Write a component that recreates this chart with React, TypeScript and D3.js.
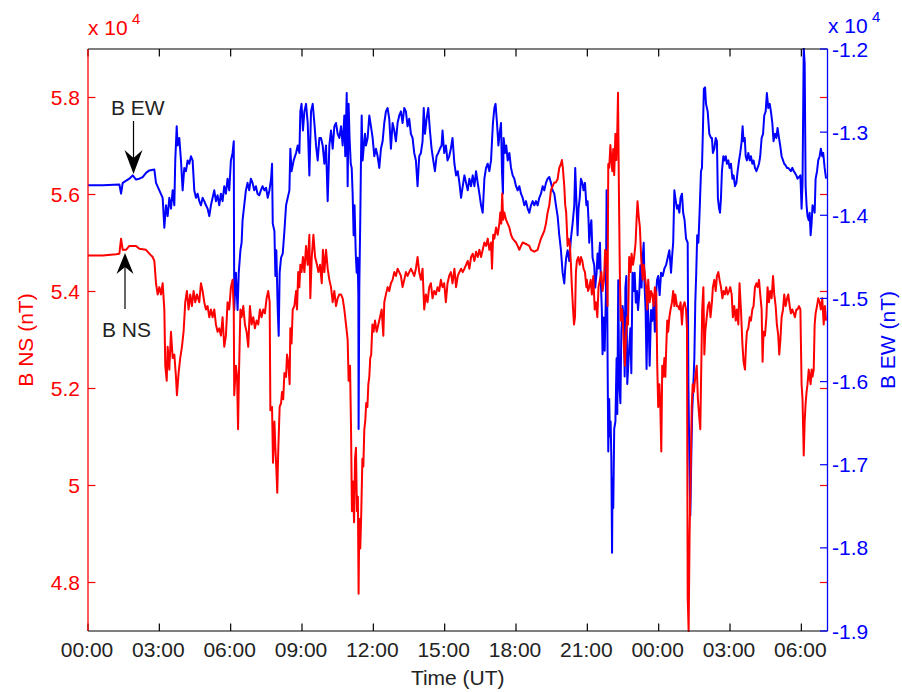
import React from "react";
import * as d3 from "d3";

// Time in hours since 00:00 UT (day 1); values in units of 10^4 nT
const ewSeries: [number, number][] = [
  [0,-1.364],[0.62,-1.364],[1.32,-1.363],[1.39,-1.374],[1.46,-1.361],[1.74,-1.356],[1.88,-1.352],[2.02,-1.357],[2.16,-1.356],[2.30,-1.354],[2.44,-1.349],[2.58,-1.346],[2.79,-1.345],[2.86,-1.361],[3.00,-1.370],[3.14,-1.379],[3.21,-1.415],[3.28,-1.388],[3.35,-1.401],[3.42,-1.379],[3.49,-1.392],[3.56,-1.370],[3.63,-1.388],[3.67,-1.334],[3.73,-1.293],[3.77,-1.316],[3.84,-1.307],[3.91,-1.334],[3.98,-1.370],[4.05,-1.343],[4.12,-1.347],[4.19,-1.334],[4.26,-1.338],[4.33,-1.329],[4.40,-1.334],[4.47,-1.370],[4.54,-1.379],[4.61,-1.374],[4.68,-1.383],[4.75,-1.388],[4.82,-1.379],[4.89,-1.383],[4.96,-1.388],[5.03,-1.392],[5.10,-1.401],[5.17,-1.388],
  [5.24,-1.379],[5.31,-1.370],[5.38,-1.383],[5.45,-1.376],[5.52,-1.388],[5.59,-1.374],[5.66,-1.383],[5.73,-1.365],[5.80,-1.374],[5.87,-1.356],[5.94,-1.370],[6.01,-1.334],[6.08,-1.325],[6.13,-1.311],[6.15,-1.514],[6.22,-1.469],[6.29,-1.514],[6.34,-1.469],[6.41,-1.442],[6.46,-1.433],[6.50,-1.406],[6.57,-1.388],[6.64,-1.370],[6.71,-1.361],[6.78,-1.370],[6.85,-1.356],[6.92,-1.361],[6.99,-1.370],[7.06,-1.365],[7.13,-1.374],[7.20,-1.376],[7.27,-1.370],[7.34,-1.365],[7.42,-1.370],[7.49,-1.367],[7.56,-1.379],[7.63,-1.370],[7.70,-1.356],[7.74,-1.338],[7.77,-1.410],[7.84,-1.419],[7.88,-1.473],[7.92,-1.442],[7.98,-1.514],[8.02,-1.545],[8.06,-1.469],[8.12,-1.451],[8.19,-1.446],[8.26,-1.419],[8.33,-1.388],[8.40,-1.379],[8.47,-1.370],[8.51,-1.320],[8.56,-1.347],[8.65,-1.334],[8.75,-1.325],[8.82,-1.316],[8.89,-1.325],[8.93,-1.275],[8.98,-1.266],[9.04,-1.298],[9.10,-1.275],[9.17,-1.266],[9.24,-1.289],[9.31,-1.352],[9.38,-1.275],[9.45,-1.266],[9.52,-1.289],[9.59,-1.316],[9.66,-1.334],[9.73,-1.307],[9.80,-1.307],[9.87,-1.316],[9.94,-1.338],[10.01,-1.316],[10.08,-1.383],[10.15,-1.316],[10.22,-1.298],[10.29,-1.320],[10.36,-1.293],[10.43,-1.289],
  [10.50,-1.302],[10.57,-1.307],[10.64,-1.293],[10.71,-1.316],[10.78,-1.280],[10.82,-1.329],[10.88,-1.253],[10.92,-1.365],[10.96,-1.266],[11.00,-1.307],[11.05,-1.338],[11.09,-1.343],[11.13,-1.374],[11.17,-1.424],[11.21,-1.388],[11.26,-1.446],[11.30,-1.469],[11.34,-1.451],[11.37,-1.496],[11.38,-1.657],[11.41,-1.487],[11.45,-1.406],[11.48,-1.334],[11.51,-1.280],[11.55,-1.334],[11.59,-1.320],[11.65,-1.302],[11.69,-1.316],[11.76,-1.307],[11.83,-1.280],[11.90,-1.293],[11.97,-1.307],[12.04,-1.329],[12.11,-1.320],[12.18,-1.329],[12.25,-1.343],[12.32,-1.320],[12.39,-1.311],[12.46,-1.289],[12.53,-1.275],[12.60,-1.271],[12.67,-1.284],[12.74,-1.320],[12.81,-1.289],[12.88,-1.298],[12.95,-1.311],[13.02,-1.289],[13.09,-1.280],[13.16,-1.275],[13.23,-1.289],[13.30,-1.271],[13.37,-1.275],[13.44,-1.293],[13.51,-1.284],[13.58,-1.302],[13.65,-1.307],[13.72,-1.325],[13.79,-1.334],[13.86,-1.365],[13.93,-1.329],[14.00,-1.325],[14.07,-1.311],[14.12,-1.271],[14.17,-1.302],[14.24,-1.284],[14.31,-1.271],[14.38,-1.298],[14.45,-1.320],[14.52,-1.334],[14.59,-1.347],[14.66,-1.329],[14.73,-1.325],[14.80,-1.320],[14.87,-1.316],[14.91,-1.298],[14.98,-1.325],[15.05,-1.316],[15.12,-1.334],[15.19,-1.329],[15.26,-1.320],[15.33,-1.307],[15.41,-1.338],[15.48,-1.352],[15.55,-1.347],[15.62,-1.361],[15.69,-1.379],
  [15.76,-1.365],[15.83,-1.352],[15.90,-1.361],[15.97,-1.370],[16.04,-1.356],[16.11,-1.365],[16.18,-1.352],[16.25,-1.365],[16.32,-1.347],[16.39,-1.361],[16.46,-1.374],[16.53,-1.388],[16.60,-1.397],[16.67,-1.356],[16.74,-1.343],[16.81,-1.338],[16.88,-1.347],[16.95,-1.334],[16.99,-1.311],[17.03,-1.289],[17.09,-1.271],[17.14,-1.266],[17.20,-1.289],[17.26,-1.316],[17.31,-1.302],[17.37,-1.289],[17.41,-1.347],[17.45,-1.374],[17.48,-1.307],[17.54,-1.325],[17.59,-1.316],[17.65,-1.334],[17.72,-1.325],[17.79,-1.343],[17.86,-1.352],[17.93,-1.356],[18.00,-1.365],[18.07,-1.370],[18.14,-1.365],[18.21,-1.374],[18.28,-1.379],[18.35,-1.388],[18.42,-1.383],[18.49,-1.392],[18.56,-1.397],[18.63,-1.388],[18.70,-1.383],[18.77,-1.388],[18.84,-1.383],[18.91,-1.388],[18.98,-1.379],[19.05,-1.374],[19.12,-1.365],[19.19,-1.370],[19.26,-1.361],[19.33,-1.356],[19.40,-1.354],[19.47,-1.361],[19.54,-1.370],[19.61,-1.374],[19.68,-1.388],[19.75,-1.401],[19.82,-1.424],[19.89,-1.442],[19.96,-1.469],[20.03,-1.482],[20.07,-1.464],[20.11,-1.451],[20.17,-1.442],[20.24,-1.455],[20.31,-1.428],[20.38,-1.410],[20.45,-1.388],[20.49,-1.343],[20.54,-1.383],[20.59,-1.424],[20.63,-1.392],[20.68,-1.379],[20.73,-1.356],[20.79,-1.361],[20.84,-1.370],[20.90,-1.361],[20.96,-1.388],
  [21.01,-1.383],[21.05,-1.406],[21.08,-1.433],[21.12,-1.415],[21.17,-1.406],[21.22,-1.451],[21.29,-1.460],[21.33,-1.487],[21.39,-1.469],[21.43,-1.446],[21.47,-1.464],[21.53,-1.433],[21.57,-1.482],[21.61,-1.514],[21.64,-1.567],[21.68,-1.523],[21.73,-1.563],[21.78,-1.496],[21.81,-1.370],[21.85,-1.567],[21.88,-1.684],[21.92,-1.621],[21.95,-1.666],[21.98,-1.648],[22.01,-1.693],[22.04,-1.806],[22.06,-1.716],[22.09,-1.752],[22.13,-1.657],[22.18,-1.648],[22.23,-1.572],[22.26,-1.639],[22.30,-1.478],[22.34,-1.603],[22.39,-1.626],[22.43,-1.540],[22.48,-1.509],[22.53,-1.523],[22.57,-1.594],[22.60,-1.487],[22.64,-1.473],[22.68,-1.603],[22.72,-1.581],[22.76,-1.559],[22.81,-1.536],[22.85,-1.590],[22.90,-1.469],[22.95,-1.491],[22.99,-1.469],[23.04,-1.505],[23.09,-1.491],[23.13,-1.514],[23.18,-1.496],[23.23,-1.460],[23.28,-1.487],[23.33,-1.451],[23.37,-1.433],[23.41,-1.487],[23.45,-1.514],[23.49,-1.585],[23.54,-1.505],[23.58,-1.532],[23.62,-1.581],[23.68,-1.514],[23.73,-1.527],[23.79,-1.505],[23.84,-1.540],[23.89,-1.496],[23.93,-1.478],[23.98,-1.473],[24.04,-1.496],[24.10,-1.469],[24.17,-1.473],[24.24,-1.464],[24.31,-1.460],[24.38,-1.451],[24.45,-1.442],[24.52,-1.469],[24.56,-1.451],[24.61,-1.433],[24.66,-1.370],[24.70,-1.379],[24.77,-1.392],[24.81,-1.388],[24.87,-1.397],[24.92,-1.379],[24.98,-1.374],[25.03,-1.397],[25.09,-1.406],[25.15,-1.428],[25.22,-1.433],[25.25,-1.603],[25.29,-1.693],[25.33,-1.761],[25.37,-1.693],[25.41,-1.635],[25.46,-1.603],[25.50,-1.572],[25.54,-1.505],[25.58,-1.469],[25.62,-1.424],[25.67,-1.433],[25.72,-1.397],[25.78,-1.347],[25.82,-1.343],[25.86,-1.298],[25.90,-1.248],[25.95,-1.246],[25.99,-1.266],[26.06,-1.275],[26.13,-1.302],[26.20,-1.307],
  [26.24,-1.307],[26.28,-1.325],[26.34,-1.320],[26.40,-1.307],[26.45,-1.311],[26.49,-1.379],[26.54,-1.392],[26.58,-1.397],[26.62,-1.379],[26.66,-1.347],[26.72,-1.329],[26.76,-1.334],[26.82,-1.329],[26.87,-1.338],[26.93,-1.334],[26.98,-1.343],[27.04,-1.338],[27.10,-1.356],[27.15,-1.352],[27.21,-1.365],[27.27,-1.361],[27.32,-1.347],[27.38,-1.334],[27.43,-1.325],[27.49,-1.311],[27.53,-1.293],[27.57,-1.311],[27.62,-1.307],[27.66,-1.329],[27.71,-1.334],[27.77,-1.325],[27.83,-1.334],[27.88,-1.329],[27.94,-1.338],[27.99,-1.334],[28.05,-1.343],[28.11,-1.347],[28.16,-1.343],[28.22,-1.338],[28.27,-1.329],[28.33,-1.307],[28.39,-1.302],[28.44,-1.280],[28.50,-1.275],[28.55,-1.253],[28.61,-1.271],[28.67,-1.266],[28.72,-1.275],[28.78,-1.289],[28.83,-1.311],[28.89,-1.302],[28.95,-1.307],[29.00,-1.295],[29.06,-1.307],[29.11,-1.316],[29.17,-1.329],[29.23,-1.334],[29.28,-1.338],[29.34,-1.340],[29.40,-1.343],[29.45,-1.343],[29.51,-1.345],[29.56,-1.347],[29.62,-1.343],[29.68,-1.347],[29.73,-1.349],[29.79,-1.352],[29.84,-1.356],[29.90,-1.354],[29.96,-1.352],[30.01,-1.392],[30.05,-1.361],[30.10,-1.199],[30.14,-1.217],[30.18,-1.365],[30.22,-1.388],[30.26,-1.401],[30.31,-1.406],[30.35,-1.397],[30.39,-1.424],[30.43,-1.410],[30.47,-1.388],[30.52,-1.392],[30.56,-1.397],[30.60,-1.356],[30.66,-1.347],[30.71,-1.334],[30.77,-1.329],[30.82,-1.320],[30.88,-1.329],[30.92,-1.325],[30.98,-1.343],[31.04,-1.356],
];

const nsSeries: [number, number][] = [
  [0,5.474],[0.62,5.474],[1.18,5.477],[1.32,5.478],[1.39,5.509],[1.46,5.486],[1.60,5.486],[1.74,5.494],[2.02,5.494],[2.16,5.488],[2.44,5.486],[2.58,5.478],[2.72,5.471],[2.79,5.463],[2.86,5.417],[2.93,5.394],[3.00,5.409],[3.07,5.394],[3.14,5.417],[3.21,5.363],[3.25,5.247],[3.31,5.216],[3.35,5.286],[3.42,5.239],[3.49,5.317],[3.56,5.263],[3.63,5.270],[3.70,5.224],[3.74,5.186],[3.81,5.232],[3.88,5.263],[3.95,5.286],[4.02,5.317],[4.09,5.378],[4.16,5.401],[4.23,5.363],[4.30,5.394],[4.37,5.370],[4.44,5.401],[4.51,5.378],[4.58,5.394],[4.68,5.378],[4.75,5.417],[4.82,5.401],[4.89,5.378],[4.96,5.363],[5.03,5.370],[5.10,5.347],[5.17,5.363],
  [5.24,5.347],[5.31,5.363],[5.38,5.332],[5.45,5.317],[5.52,5.324],[5.59,5.309],[5.66,5.347],[5.73,5.286],[5.80,5.309],[5.87,5.378],[5.94,5.363],[6.01,5.409],[6.08,5.424],[6.13,5.363],[6.15,5.186],[6.22,5.247],[6.27,5.224],[6.31,5.116],[6.35,5.232],[6.41,5.363],[6.46,5.347],[6.53,5.370],[6.60,5.332],[6.67,5.317],[6.74,5.286],[6.81,5.370],[6.88,5.332],[6.95,5.347],[7.02,5.324],[7.09,5.340],[7.16,5.332],[7.23,5.363],[7.30,5.347],[7.37,5.363],[7.44,5.355],[7.51,5.386],[7.58,5.401],[7.64,5.378],[7.67,5.155],[7.74,5.162],[7.78,5.047],[7.84,5.132],[7.88,5.078],[7.93,5.024],[7.96,4.985],[8.00,5.070],[8.06,5.162],[8.12,5.170],[8.16,5.193],[8.21,5.178],[8.26,5.232],[8.33,5.224],[8.37,5.270],[8.42,5.255],[8.48,5.209],[8.51,5.324],[8.56,5.293],[8.61,5.363],[8.68,5.370],[8.75,5.401],[8.79,5.363],[8.84,5.440],[8.89,5.409],[8.93,5.455],[8.98,5.440],[9.04,5.471],[9.10,5.440],[9.17,5.494],[9.24,5.455],[9.31,5.517],[9.35,5.386],[9.41,5.471],[9.48,5.517],[9.55,5.471],[9.63,5.455],[9.69,5.440],[9.76,5.455],[9.83,5.417],[9.88,5.486],[9.94,5.440],[10.01,5.486],[10.08,5.447],[10.15,5.424],[10.22,5.409],[10.29,5.378],[10.36,5.401],[10.43,5.370],
  [10.50,5.386],[10.57,5.394],[10.64,5.394],[10.71,5.386],[10.78,5.363],[10.85,5.332],[10.92,5.301],[10.96,5.216],[11.02,5.247],[11.06,5.124],[11.10,4.947],[11.14,5.008],[11.19,4.924],[11.23,5.055],[11.27,5.078],[11.31,4.947],[11.35,4.977],[11.38,4.777],[11.41,4.931],[11.45,4.870],[11.49,4.939],[11.54,5.055],[11.58,5.039],[11.62,5.116],[11.66,5.132],[11.70,5.170],[11.75,5.162],[11.79,5.209],[11.83,5.224],[11.87,5.263],[11.91,5.270],[11.96,5.332],[12.01,5.317],[12.07,5.340],[12.14,5.317],[12.21,5.332],[12.28,5.347],[12.35,5.363],[12.42,5.309],[12.46,5.378],[12.53,5.394],[12.60,5.409],[12.67,5.401],[12.74,5.417],[12.81,5.424],[12.88,5.440],[12.95,5.432],[13.02,5.447],[13.09,5.440],[13.16,5.432],[13.23,5.409],[13.30,5.424],[13.37,5.440],[13.44,5.432],[13.51,5.440],[13.58,5.447],[13.65,5.440],[13.72,5.432],[13.79,5.447],[13.86,5.471],[13.93,5.440],[14.00,5.424],[14.07,5.447],[14.14,5.363],[14.21,5.394],[14.28,5.378],[14.35,5.409],[14.42,5.417],[14.49,5.386],[14.56,5.401],[14.63,5.394],[14.70,5.409],[14.77,5.401],[14.84,5.424],[14.91,5.409],[14.98,5.417],[15.05,5.378],[15.12,5.417],[15.19,5.432],[15.26,5.440],[15.33,5.417],[15.41,5.447],[15.48,5.409],[15.55,5.432],[15.62,5.440],[15.69,5.447],
  [15.76,5.440],[15.83,5.447],[15.90,5.455],[15.97,5.463],[16.04,5.447],[16.11,5.471],[16.18,5.478],[16.25,5.463],[16.32,5.482],[16.39,5.471],[16.46,5.486],[16.53,5.471],[16.60,5.486],[16.67,5.501],[16.74,5.494],[16.81,5.509],[16.88,5.486],[16.95,5.501],[16.99,5.447],[17.04,5.517],[17.09,5.509],[17.16,5.532],[17.23,5.517],[17.30,5.540],[17.34,5.563],[17.38,5.540],[17.42,5.602],[17.46,5.548],[17.51,5.563],[17.58,5.548],[17.65,5.540],[17.72,5.532],[17.79,5.517],[17.86,5.509],[17.93,5.505],[18.00,5.501],[18.07,5.494],[18.14,5.486],[18.21,5.494],[18.28,5.501],[18.42,5.498],[18.56,5.494],[18.63,5.486],[18.77,5.482],[18.91,5.486],[18.98,5.498],[19.05,5.509],[19.12,5.517],[19.19,5.525],[19.26,5.540],[19.33,5.563],[19.40,5.578],[19.47,5.609],[19.54,5.617],[19.61,5.625],[19.68,5.625],[19.75,5.632],[19.82,5.655],[19.89,5.663],[19.93,5.671],[19.97,5.655],[20.03,5.617],[20.07,5.578],[20.11,5.563],[20.17,5.494],[20.21,5.509],[20.26,5.501],[20.31,5.455],[20.35,5.409],[20.40,5.363],[20.44,5.332],[20.48,5.347],[20.52,5.440],[20.56,5.463],[20.62,5.471],[20.68,5.455],[20.73,5.471],[20.79,5.463],[20.84,5.447],[20.90,5.440],[20.96,5.409],
  [20.98,5.424],[21.03,5.401],[21.08,5.409],[21.14,5.424],[21.19,5.394],[21.25,5.432],[21.31,5.363],[21.36,5.378],[21.42,5.347],[21.47,5.409],[21.53,5.424],[21.59,5.440],[21.64,5.401],[21.70,5.424],[21.75,5.486],[21.81,5.478],[21.85,5.370],[21.88,5.663],[21.92,5.655],[21.97,5.702],[22.01,5.671],[22.05,5.648],[22.09,5.694],[22.13,5.640],[22.18,5.725],[22.22,5.671],[22.26,5.733],[22.29,5.810],[22.33,5.594],[22.37,5.424],[22.41,5.340],[22.46,5.363],[22.50,5.332],[22.54,5.286],[22.58,5.247],[22.62,5.301],[22.67,5.347],[22.71,5.332],[22.76,5.471],[22.82,5.440],[22.86,5.478],[22.92,5.455],[22.97,5.471],[23.03,5.501],[23.07,5.548],[23.11,5.586],[23.16,5.555],[23.21,5.532],[23.27,5.463],[23.33,5.424],[23.37,5.455],[23.41,5.440],[23.47,5.409],[23.52,5.363],[23.56,5.424],[23.62,5.378],[23.68,5.401],[23.73,5.394],[23.79,5.370],[23.84,5.409],[23.90,5.394],[23.94,5.247],[23.98,5.162],[24.03,5.209],[24.07,5.162],[24.11,5.070],[24.15,5.247],[24.19,5.224],[24.24,5.263],[24.28,5.224],[24.32,5.286],[24.36,5.340],[24.40,5.317],[24.45,5.347],[24.50,5.363],[24.56,5.378],[24.61,5.401],[24.66,5.370],[24.70,5.394],[24.77,5.370],[24.81,5.370],[24.87,5.363],[24.92,5.378],[24.98,5.332],[25.03,5.370],[25.09,5.378],[25.15,5.363],[25.19,5.324],[25.22,4.770],[25.26,4.700],[25.30,4.900],[25.34,5.008],[25.39,5.162],[25.43,5.209],[25.48,5.193],[25.54,5.224],[25.60,5.247],[25.65,5.178],[25.71,5.139],[25.75,5.116],[25.79,5.239],[25.83,5.363],[25.88,5.409],[25.92,5.270],[25.96,5.317],[26.02,5.347],[26.07,5.370],[26.13,5.378],[26.18,5.347],
  [26.24,5.378],[26.28,5.409],[26.34,5.424],[26.40,5.401],[26.45,5.432],[26.51,5.440],[26.56,5.424],[26.62,5.409],[26.68,5.386],[26.73,5.401],[26.79,5.394],[26.84,5.409],[26.90,5.394],[26.96,5.401],[27.01,5.409],[27.07,5.394],[27.12,5.347],[27.18,5.370],[27.24,5.340],[27.29,5.363],[27.35,5.332],[27.40,5.417],[27.46,5.363],[27.52,5.293],[27.57,5.255],[27.63,5.239],[27.67,5.286],[27.71,5.317],[27.77,5.324],[27.83,5.347],[27.88,5.340],[27.94,5.363],[27.99,5.370],[28.05,5.409],[28.11,5.417],[28.16,5.409],[28.22,5.424],[28.27,5.394],[28.33,5.363],[28.37,5.255],[28.41,5.317],[28.47,5.309],[28.53,5.347],[28.58,5.409],[28.64,5.378],[28.69,5.401],[28.75,5.386],[28.81,5.432],[28.86,5.394],[28.92,5.370],[28.97,5.332],[29.03,5.309],[29.07,5.270],[29.12,5.301],[29.17,5.347],[29.23,5.363],[29.28,5.394],[29.34,5.370],[29.40,5.386],[29.45,5.394],[29.51,5.370],[29.56,5.355],[29.62,5.363],[29.68,5.355],[29.73,5.347],[29.79,5.363],[29.84,5.363],[29.90,5.370],[29.96,5.363],[30.01,5.209],[30.05,5.178],[30.10,5.062],[30.14,5.132],[30.18,5.170],[30.22,5.193],[30.26,5.209],[30.31,5.239],[30.35,5.224],[30.39,5.209],[30.43,5.239],[30.47,5.224],[30.52,5.239],[30.56,5.332],[30.60,5.355],[30.66,5.370],[30.71,5.386],[30.77,5.378],[30.82,5.363],[30.88,5.386],[30.94,5.332],[30.99,5.370],[31.04,5.340],
];

const timeTicks = [0, 3, 6, 9, 12, 15, 18, 21, 24, 27, 30];
const timeTickLabels = ["00:00", "03:00", "06:00", "09:00", "12:00", "15:00", "18:00", "21:00", "00:00", "03:00", "06:00"];
const nsTicks = [4.8, 5.0, 5.2, 5.4, 5.6, 5.8];
const nsTickLabels = ["4.8", "5", "5.2", "5.4", "5.6", "5.8"];
const ewTicks = [-1.9, -1.8, -1.7, -1.6, -1.5, -1.4, -1.3, -1.2];
const ewTickLabels = ["-1.9", "-1.8", "-1.7", "-1.6", "-1.5", "-1.4", "-1.3", "-1.2"];

const W = 902;
const H = 692;
const left = 88;
const right = 827.5;
const top = 49;
const bottom = 631;
const TL = 7.5;
const FS = 21;
const FONT = "'Liberation Sans', Arial, Helvetica, sans-serif";
const RED = "#ff0000";
const BLUE = "#0000ff";

export default function App() {
  const x = d3.scaleLinear().domain([0, 31.1]).range([left, right]);
  const yNS = d3.scaleLinear().domain([4.7, 5.9]).range([bottom, top]);
  const yEW = d3.scaleLinear().domain([-1.9, -1.2]).range([bottom, top]);

  const nsLine = d3.line<[number, number]>().x((d) => x(d[0])).y((d) => yNS(d[1]));
  const ewLine = d3.line<[number, number]>().x((d) => x(d[0])).y((d) => yEW(d[1]));

  const bewX = 133.5;
  const bnsX = 125;

  return (
    <svg
      width={W}
      height={H}
      style={{ position: "absolute", left: 0, top: 0, background: "#fff" }}
      fontFamily={FONT}
    >
      <defs>
        <clipPath id="plotClip">
          <rect x={left} y={top - 1} width={right - left} height={bottom - top + 2} />
        </clipPath>
      </defs>
      <rect x={0} y={0} width={W} height={H} fill="#fff" />

      <g clipPath="url(#plotClip)" fill="none" strokeLinejoin="round">
        <path d={ewLine(ewSeries) || ""} stroke={BLUE} strokeWidth={2} />
        <path d={nsLine(nsSeries) || ""} stroke={RED} strokeWidth={2} />
      </g>

      {/* frame top/bottom */}
      <line x1={left} x2={right} y1={top} y2={top} stroke="#000" strokeWidth={1.2} />
      <line x1={left} x2={right} y1={bottom} y2={bottom} stroke="#000" strokeWidth={1.2} />

      {/* x ticks */}
      {timeTicks.map((t, i) => (
        <g key={"xt" + i}>
          <line x1={x(t)} x2={x(t)} y1={bottom} y2={bottom - TL} stroke="#000" strokeWidth={1.2} />
          <line x1={x(t)} x2={x(t)} y1={top} y2={top + TL} stroke="#000" strokeWidth={1.2} />
          <text x={x(t) - 1} y={657} fontSize={FS} textAnchor="middle" fill="#222">
            {timeTickLabels[i]}
          </text>
        </g>
      ))}

      {/* left axis (B NS) */}
      <line x1={left} x2={left} y1={top} y2={bottom} stroke={RED} strokeWidth={1.3} />
      {nsTicks.map((v, i) => (
        <g key={"ns" + i}>
          <line x1={left} x2={left + TL} y1={yNS(v)} y2={yNS(v)} stroke={RED} strokeWidth={1.2} />
          <line x1={right} x2={right - TL} y1={yNS(v)} y2={yNS(v)} stroke={RED} strokeWidth={1.2} />
          <text x={80} y={yNS(v) + 7.5} fontSize={FS} textAnchor="end" fill={RED}>
            {nsTickLabels[i]}
          </text>
        </g>
      ))}
      <text x={88} y={35} fontSize={FS} fill={RED}>x 10</text>
      <text x={132} y={24} fontSize={15} fill={RED}>4</text>
      <text
        transform={`translate(33, ${(top + bottom) / 2}) rotate(-90)`}
        fontSize={FS}
        textAnchor="middle"
        fill={RED}
      >
        B NS (nT)
      </text>

      {/* right axis (B EW) */}
      <line x1={right} x2={right} y1={top} y2={bottom} stroke={BLUE} strokeWidth={1.3} />
      {ewTicks.map((v, i) => (
        <g key={"ew" + i}>
          <line x1={right} x2={right - TL} y1={yEW(v)} y2={yEW(v)} stroke={BLUE} strokeWidth={1.2} />
          <text x={832} y={yEW(v) + 7.5} fontSize={FS} textAnchor="start" fill={BLUE}>
            {ewTickLabels[i]}
          </text>
        </g>
      ))}
      <text x={828} y={33} fontSize={FS} fill={BLUE}>x 10</text>
      <text x={872} y={22} fontSize={15} fill={BLUE}>4</text>
      <text
        transform={`translate(895, ${(top + bottom) / 2}) rotate(-90)`}
        fontSize={FS}
        textAnchor="middle"
        fill={BLUE}
      >
        B EW (nT)
      </text>

      {/* x-axis title */}
      <text x={(left + right) / 2} y={685} fontSize={FS} textAnchor="middle" fill="#222">
        Time (UT)
      </text>

      {/* annotations */}
      <text x={111} y={114.5} fontSize={FS} fill="#222">B EW</text>
      <line x1={bewX} x2={bewX} y1={121} y2={160} stroke="#000" strokeWidth={1.2} />
      <path
        d={`M${bewX},174 L${bewX - 9},150 L${bewX},158 L${bewX + 9},150 Z`}
        fill="#000"
      />
      <text x={102} y={337} fontSize={FS} fill="#222">B NS</text>
      <line x1={bnsX} x2={bnsX} y1={309} y2={265} stroke="#000" strokeWidth={1.2} />
      <path
        d={`M${bnsX},253 L${bnsX - 8.5},274 L${bnsX},267 L${bnsX + 8.5},274 Z`}
        fill="#000"
      />
    </svg>
  );
}
